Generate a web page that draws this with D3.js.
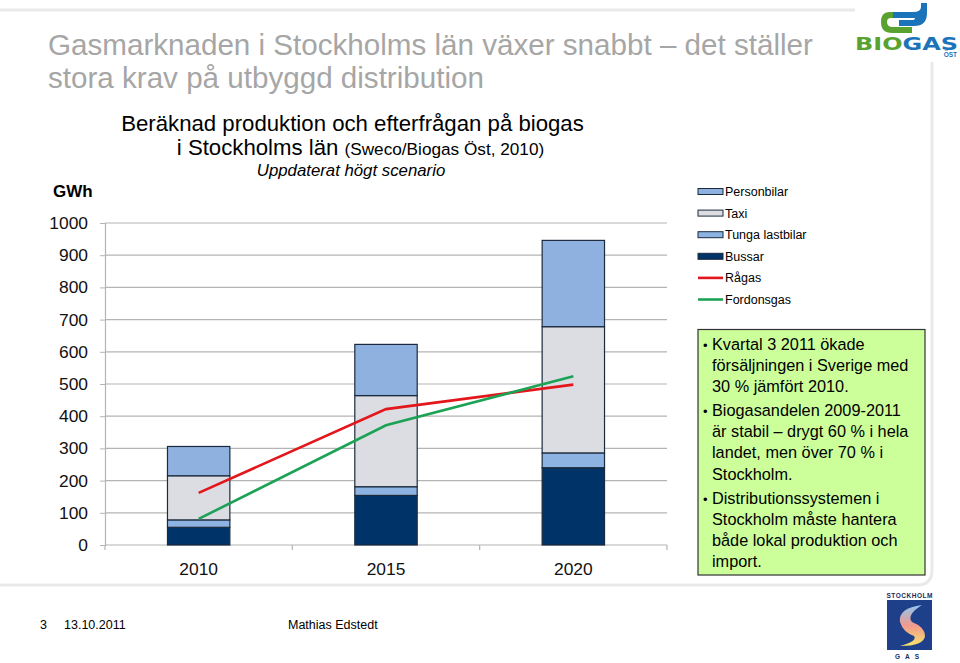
<!DOCTYPE html>
<html><head><meta charset="utf-8">
<script src="https://cdn.jsdelivr.net/npm/d3@7"></script>
<style>
html,body{margin:0;padding:0;background:#fff;}
svg{display:block;font-family:"Liberation Sans",Arial,sans-serif;}
</style></head>
<body>
<svg id="c" width="960" height="663"></svg>
<script>
// ---- DATA ----
const years = ["2010","2015","2020"];
const bussar = [55, 154, 240];
const tungaLastbilar = [23, 27, 46];
const taxi = [137, 283, 392];
const personbilar = [91, 159, 268];
const ragas = [162, 422, 498];
const fordonsgas = [81, 372, 524];
const yTicks = [0,100,200,300,400,500,600,700,800,900,1000];
const legendLabels = ["Personbilar","Taxi","Tunga lastbilar","Bussar","Rågas","Fordonsgas"];
const bullets = [
  ["Kvartal 3 2011 ökade","försäljningen i Sverige med","30 % jämfört 2010."],
  ["Biogasandelen 2009-2011","är stabil – drygt 60 % i hela","landet, men över 70 % i","Stockholm."],
  ["Distributionssystemen i","Stockholm måste hantera","både lokal produktion och","import."]
];

const svg = d3.select("#c");
const colors = {Bussar:"#003469", Tunga:"#8db3e2", Taxi:"#dcdde2", Personbilar:"#8eb1df", Ragas:"#e3161c", Fordon:"#1ba254"};

// slide decoration
svg.append("line").attr("x1",0).attr("x2",855).attr("y1",10).attr("y2",10).attr("stroke","#e9e9e9").attr("stroke-width",3);
svg.append("path").attr("d","M932,62 L932,570 Q932,585 917,585 L0,585").attr("fill","none").attr("stroke","#e9e9e9").attr("stroke-width",3);

// titles
svg.append("text").attr("x",48).attr("y",55).attr("font-size",29.6).attr("fill","#a6a6a6").text("Gasmarknaden i Stockholms län växer snabbt – det ställer");
svg.append("text").attr("x",48).attr("y",88).attr("font-size",29.6).attr("fill","#a6a6a6").text("stora krav på utbyggd distribution");
svg.append("text").attr("x",352.5).attr("y",131).attr("text-anchor","middle").attr("font-size",22.2).attr("fill","#000").text("Beräknad produktion och efterfrågan på biogas");
const t2 = svg.append("text").attr("x",360.5).attr("y",155).attr("text-anchor","middle").attr("fill","#000");
t2.append("tspan").attr("font-size",22.2).text("i Stockholms län ");
t2.append("tspan").attr("font-size",17.2).text("(Sweco/Biogas Öst, 2010)");
svg.append("text").attr("x",351).attr("y",176).attr("text-anchor","middle").attr("font-size",16.8).attr("font-style","italic").attr("fill","#000").text("Uppdaterat högt scenario");
svg.append("text").attr("x",53).attr("y",197).attr("font-size",17).attr("font-weight","bold").attr("fill","#000").text("GWh");

// scales
const x = d3.scaleBand().domain(years).range([105,667]).paddingInner(0.667).paddingOuter(0.3335);
const y = d3.scaleLinear().domain([0,1000]).range([545,223]);

// gridlines
svg.append("g").selectAll("line").data(yTicks).join("line")
  .attr("x1",105).attr("x2",667).attr("y1",d=>y(d)).attr("y2",d=>y(d))
  .attr("stroke","#b4b4b4").attr("stroke-width",1.2);

// y axis
const yAxis = svg.append("g").attr("transform","translate(105,0)")
  .call(d3.axisLeft(y).tickValues(yTicks).tickSize(5).tickPadding(12).tickFormat(d3.format("d")));
yAxis.select(".domain").attr("stroke","#b4b4b4").attr("stroke-width",1.2);
yAxis.selectAll(".tick line").attr("stroke","#b4b4b4");
yAxis.selectAll("text").attr("font-size",17.4).attr("fill","#111").attr("font-family","Liberation Sans, Arial, sans-serif");

// x axis boundary ticks
const bounds = [105].concat(years.map(d=>x(d)+x.bandwidth()+x.step()*x.paddingInner()/2));
svg.append("g").selectAll("line").data(bounds).join("line")
  .attr("x1",d=>d).attr("x2",d=>d).attr("y1",545).attr("y2",550).attr("stroke","#b4b4b4").attr("stroke-width",1.2);
svg.append("g").selectAll("text").data(years).join("text")
  .attr("x",d=>x(d)+x.bandwidth()/2).attr("y",575).attr("text-anchor","middle")
  .attr("font-size",17.4).attr("fill","#111").text(d=>d);

// stacked bars
const rows = years.map((yr,i)=>({year:yr, Bussar:bussar[i], Tunga:tungaLastbilar[i], Taxi:taxi[i], Personbilar:personbilar[i]}));
const keys = ["Bussar","Tunga","Taxi","Personbilar"];
const stack = d3.stack().keys(keys)(rows);
svg.append("g").selectAll("g").data(stack).join("g")
  .attr("fill",d=>colors[d.key])
  .selectAll("rect").data(d=>d).join("rect")
  .attr("x",d=>x(d.data.year)).attr("width",x.bandwidth())
  .attr("y",d=>y(d[1])).attr("height",d=>y(d[0])-y(d[1]))
  .attr("stroke","#1c2a3d").attr("stroke-width",1.2);

// lines
const line = d3.line().x((d,i)=>x(years[i])+x.bandwidth()/2).y(d=>y(d));
svg.append("path").datum(ragas).attr("d",line).attr("fill","none").attr("stroke",colors.Ragas).attr("stroke-width",2.6);
svg.append("path").datum(fordonsgas).attr("d",line).attr("fill","none").attr("stroke",colors.Fordon).attr("stroke-width",2.6);

// legend
const lg = svg.append("g");
const legendFills = [colors.Personbilar, colors.Taxi, colors.Tunga, colors.Bussar, colors.Ragas, colors.Fordon];
legendLabels.forEach((lab,i)=>{
  const cy = 191.5 + i*21.6;
  if(i<4){
    lg.append("rect").attr("x",698).attr("y",cy-3).attr("width",25).attr("height",6)
      .attr("fill",legendFills[i]).attr("stroke","#1c2a3d").attr("stroke-width",1);
  } else {
    lg.append("line").attr("x1",698).attr("x2",723).attr("y1",cy).attr("y2",cy)
      .attr("stroke",legendFills[i]).attr("stroke-width",2.6);
  }
  lg.append("text").attr("x",725).attr("y",cy+4.5).attr("font-size",12.5).attr("fill","#000").text(lab);
});

// green box
svg.append("rect").attr("x",698).attr("y",329.5).attr("width",227).attr("height",245.5)
  .attr("fill","#ccff99").attr("stroke","#333").attr("stroke-width",1.2);
let by = 349.5;
bullets.forEach((b,bi)=>{
  svg.append("text").attr("x",703).attr("y",by).attr("font-size",13).attr("fill","#000").text("•");
  b.forEach((ln,li)=>{
    svg.append("text").attr("x",712).attr("y",by).attr("font-size",16.3).attr("fill","#000").text(ln);
    if(li<b.length-1) by += 21.2;
  });
  by += 24;
});

// footer
svg.append("text").attr("x",40).attr("y",629).attr("font-size",12.5).attr("fill","#000").text("3");
svg.append("text").attr("x",64).attr("y",629).attr("font-size",12.5).attr("fill","#000").text("13.10.2011");
svg.append("text").attr("x",288).attr("y",629).attr("font-size",12.5).attr("fill","#000").text("Mathias Edstedt");

// Biogas Öst logo
const bl = svg.append("g");
// green hook (lower-left)
bl.append("path").attr("d","M897,12 L889,12 Q881,12 881,22 Q881,33 892,33 L912,33 L912,27 L893,27 Q887,27 887,22 Q887,18 891,18 L897,18 Z").attr("fill","#5aa22f");
// blue hook (upper-right)
bl.append("path").attr("d","M893,18 L893,12 L913,12 Q921,12 921,7 L921,3 L927,3 L927,13 Q927,26 914,26 L899,26 L899,20 L912,20 Q915,20 915,18 Z").attr("fill","#1b74b9");
const bt = bl.append("text").attr("x",855).attr("y",50).attr("font-size",17).attr("font-weight","bold").attr("font-family","DejaVu Sans, sans-serif").attr("textLength",103).attr("lengthAdjust","spacingAndGlyphs");
bt.append("tspan").attr("fill","#5aa22f").text("BIO");
bt.append("tspan").attr("fill","#1b74b9").text("GAS");
bl.append("text").attr("x",957).attr("y",57).attr("text-anchor","end").attr("font-size",6.5).attr("font-weight","bold").attr("fill","#1b74b9").text("ÖST");

// Stockholm Gas logo
const sl = svg.append("g");
sl.append("text").attr("x",909.5).attr("y",598).attr("text-anchor","middle").attr("font-size",6.5).attr("font-weight","bold").attr("fill","#1a2a5a").attr("textLength",46).text("STOCKHOLM");
sl.append("rect").attr("x",887).attr("y",600).attr("width",45).attr("height",50).attr("fill","#1e3f8a");
const gr = svg.append("defs").append("linearGradient").attr("id","sg").attr("x1",0).attr("y1",0).attr("x2",0).attr("y2",1);
gr.append("stop").attr("offset","0").attr("stop-color","#8fc7f0");
gr.append("stop").attr("offset","0.5").attr("stop-color","#f19a8d");
gr.append("stop").attr("offset","1").attr("stop-color","#f7e36a");
sl.append("path").attr("d","M922,605 Q898,608 900,622 Q903,632 914,636 Q918,641 900,646 Q924,646 925,636 Q925,627 912,622 Q906,615 922,605 Z").attr("fill","url(#sg)");
sl.append("text").attr("x",909.5).attr("y",659).attr("text-anchor","middle").attr("font-size",6.5).attr("font-weight","bold").attr("fill","#1a2a5a").attr("letter-spacing",5).text("GAS");
</script>
</body></html>
